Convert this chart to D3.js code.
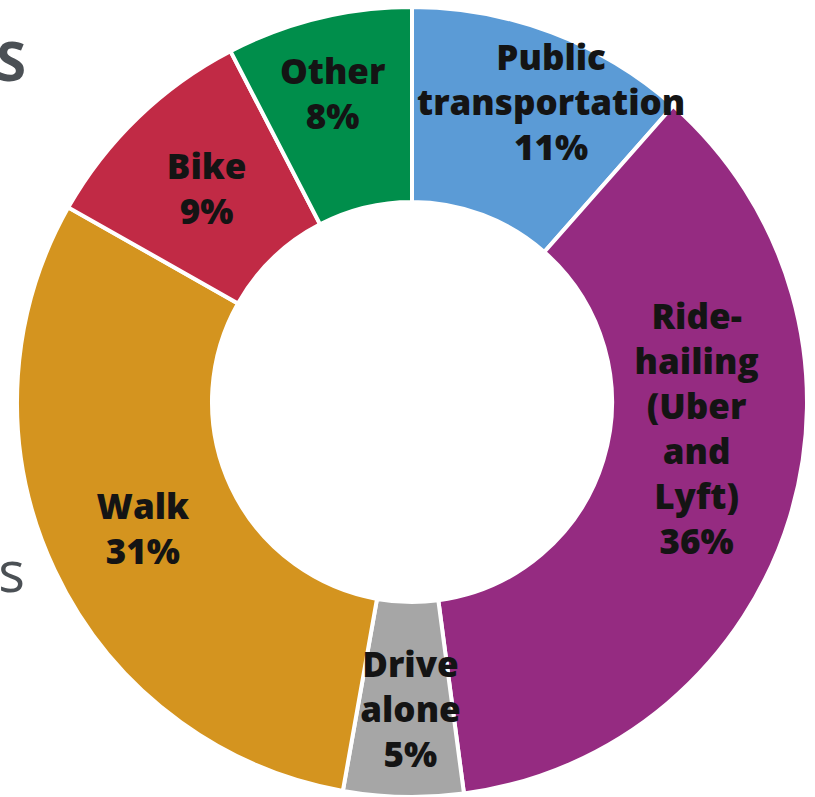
<!DOCTYPE html>
<html>
<head>
<meta charset="utf-8">
<script src="https://cdn.jsdelivr.net/npm/d3@7"></script>
<style>
  html, body { margin: 0; padding: 0; background: #ffffff; }
  svg { display: block; }
</style>
</head>
<body>
<svg id="chart" width="815" height="797"></svg>
<script>
// ---- data ----
const categories = ["Public transportation", "Ride-hailing (Uber and Lyft)", "Drive alone", "Walk", "Bike", "Other"];
const shares = [11.5, 36.4, 4.9, 30.4, 9.2, 7.6];
const shareLabels = ["11%", "36%", "5%", "31%", "9%", "8%"];
const labelLines = [
  ["Public", "transportation"],
  ["Ride-", "hailing", "(Uber", "and", "Lyft)"],
  ["Drive", "alone"],
  ["Walk"],
  ["Bike"],
  ["Other"]
];
const colors = ["#5B9BD6", "#952B81", "#A6A6A6", "#D4941F", "#C12A45", "#008E4B"];

// ---- layout ----
const cx = 412, cy = 402, outerR = 395, innerR = 200;
const labelNudge = [[34, -21], [0, -60], [5, 10], [0, 0], [1, 1], [-9, -19]];
const fontSize = 35, lineH = 45, capH = 0.714 * fontSize;

const svg = d3.select("#chart");

// cropped title fragments at the left edge (as in the reference crop)
svg.append("text").attr("x", 26).attr("y", 81).attr("text-anchor", "end")
  .attr("font-family", "Open Sans, sans-serif").attr("font-weight", 700)
  .attr("font-size", 54).attr("fill", "#4b5055").text("S");
svg.append("text").attr("x", 25).attr("y", 592).attr("text-anchor", "end")
  .attr("font-family", "Open Sans, sans-serif").attr("font-weight", 400)
  .attr("font-size", 56).attr("fill", "#4b5055").text("es");

const data = categories.map((c, i) => ({ name: c, value: shares[i], i }));
const pie = d3.pie().value(d => d.value).sort(null);
const arcs = pie(data);
const arc = d3.arc().innerRadius(innerR).outerRadius(outerR);

const g = svg.append("g").attr("transform", `translate(${cx},${cy})`);

g.selectAll("path.slice").data(arcs).enter().append("path")
  .attr("class", "slice")
  .attr("d", arc)
  .attr("fill", d => colors[d.data.i])
  .attr("stroke", "#ffffff")
  .attr("stroke-width", 4)
  .attr("stroke-linejoin", "miter");

arcs.forEach(d => {
  const i = d.data.i;
  const [x0, y0] = arc.centroid(d);
  const x = x0 + labelNudge[i][0];
  const y = y0 + labelNudge[i][1];
  const lines = labelLines[i].concat([shareLabels[i]]);
  const n = lines.length;
  const firstBase = y - (n - 1) * lineH / 2 + capH / 2;
  const t = g.append("text")
    .attr("text-anchor", "middle")
    .attr("font-family", "Open Sans, sans-serif")
    .attr("font-weight", 800)
    .attr("font-size", fontSize)
    .attr("fill", "#141414");
  lines.forEach((ln, k) => {
    t.append("tspan").attr("x", x).attr("y", firstBase + k * lineH).text(ln);
  });
});
</script>
</body>
</html>
